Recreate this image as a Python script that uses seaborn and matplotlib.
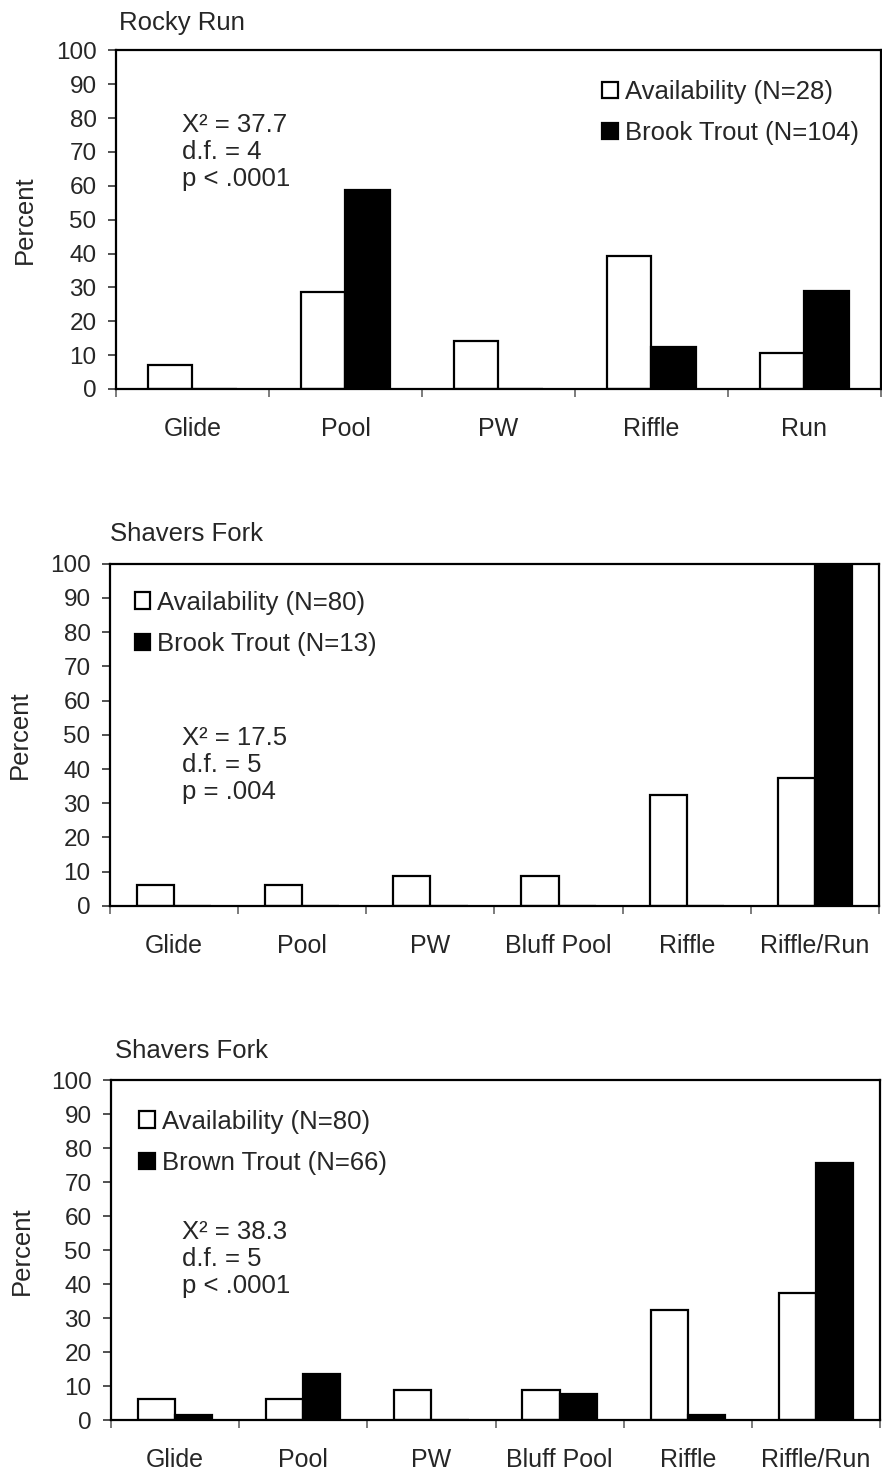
import matplotlib
matplotlib.use("Agg")
import matplotlib.pyplot as plt
import numpy as np
import pandas as pd
import seaborn as sns

# Habitat use vs. availability (percent of observations)
rocky_habitats = ["Glide", "Pool", "PW", "Riffle", "Run"]
rocky_avail = [7.1, 28.6, 14.3, 39.3, 10.7]
rocky_brook = [0.0, 58.7, 0.0, 12.5, 28.8]

shavers_habitats = ["Glide", "Pool", "PW", "Bluff Pool", "Riffle", "Riffle/Run"]
shavers_avail = [6.25, 6.25, 8.75, 8.75, 32.5, 37.5]
shavers_brook = [0.0, 0.0, 0.0, 0.0, 0.0, 100.0]
shavers_brown = [1.5, 13.6, 0.0, 7.6, 1.5, 75.8]

panel_titles = ["Rocky Run", "Shavers Fork", "Shavers Fork"]
avail_labels = ["Availability (N=28)", "Availability (N=80)", "Availability (N=80)"]
fish_labels = ["Brook Trout (N=104)", "Brook Trout (N=13)", "Brown Trout (N=66)"]
stats_labels = [
    "X\u00b2 = 37.7\nd.f. = 4\np < .0001",
    "X\u00b2 = 17.5\nd.f. = 5\np = .004",
    "X\u00b2 = 38.3\nd.f. = 5\np < .0001",
]
yticks = list(range(0, 101, 10))

sns.set_style("white")
plt.rcParams["font.family"] = ["Liberation Sans", "DejaVu Sans"]
FS = 18.5       # titles, legend, notes, axis label
FS_X = 18       # category labels
FS_Y = 17.5     # percent tick labels

fig = plt.figure(figsize=(8.82, 14.71), dpi=100)

# axes rectangles [left, bottom, width, height] in figure fraction
rects = [
    [0.1315, 0.7356, 0.8673, 0.2301],
    [0.1247, 0.3841, 0.8719, 0.2328],
    [0.1259, 0.03467, 0.8719, 0.2308],
]
title_pos = [(0.004, 1.08), (0.0, 1.086), (0.005, 1.087)]
ylabel_x = [-0.119, -0.117, -0.116]
stats_pos = [(0.086, 0.70), (0.094, 0.412), (0.092, 0.474)]
legend_pos = [(0.636, 0.913), (0.032, 0.921), (0.037, 0.914)]

datasets = [
    (rocky_habitats, rocky_avail, rocky_brook),
    (shavers_habitats, shavers_avail, shavers_brook),
    (shavers_habitats, shavers_avail, shavers_brown),
]

for i, (habitats, avail, fish) in enumerate(datasets):
    ax = fig.add_axes(rects[i])
    df = pd.DataFrame({
        "Habitat": habitats * 2,
        "Percent": list(avail) + list(fish),
        "Series": [avail_labels[i]] * len(habitats) + [fish_labels[i]] * len(habitats),
    })
    sns.barplot(
        data=df, x="Habitat", y="Percent", hue="Series",
        palette={avail_labels[i]: "white", fish_labels[i]: "black"},
        edgecolor="black", linewidth=1.6, width=0.58, gap=0,
        order=habitats, hue_order=[avail_labels[i], fish_labels[i]],
        errorbar=None, ax=ax,
    )
    n = len(habitats)
    ax.set_xlim(-0.5, n - 0.5)
    ax.set_ylim(0, 100)
    ax.set_yticks(yticks)
    ax.set_yticklabels([str(v) for v in yticks], fontsize=FS_Y)

    # category labels at centers, tick marks at category boundaries
    ax.set_xticks(np.arange(n))
    ax.set_xticklabels(habitats, fontsize=FS_X)
    ax.set_xticks(np.arange(n + 1) - 0.5, minor=True)
    ax.tick_params(axis="x", which="major", length=0, pad=20)
    ax.tick_params(axis="x", which="minor", length=6, width=1.2,
                   color="#666666", direction="out", bottom=True)
    ax.tick_params(axis="y", which="major", length=6, width=1.2,
                   color="#333333", direction="out", left=True, pad=8)

    for side in ["left", "bottom", "top", "right"]:
        ax.spines[side].set_visible(True)
        ax.spines[side].set_color("black")
        ax.spines[side].set_linewidth(1.6)

    ax.set_xlabel("")
    ax.set_ylabel("Percent", fontsize=FS, va="center")
    ax.yaxis.set_label_coords(ylabel_x[i], 0.5)

    ax.text(title_pos[i][0], title_pos[i][1], panel_titles[i],
            transform=ax.transAxes, ha="left", va="center", fontsize=FS)
    ax.text(stats_pos[i][0], stats_pos[i][1], stats_labels[i],
            transform=ax.transAxes, ha="left", va="center", fontsize=FS,
            linespacing=1.15)

    ax.legend(loc="upper left", bbox_to_anchor=legend_pos[i], frameon=False,
              fontsize=FS, handlelength=0.6, handleheight=0.6,
              handletextpad=0.28, labelspacing=0.68, borderpad=0,
              borderaxespad=0, title=None)

fig.savefig("out.png", dpi=100, facecolor="white")
